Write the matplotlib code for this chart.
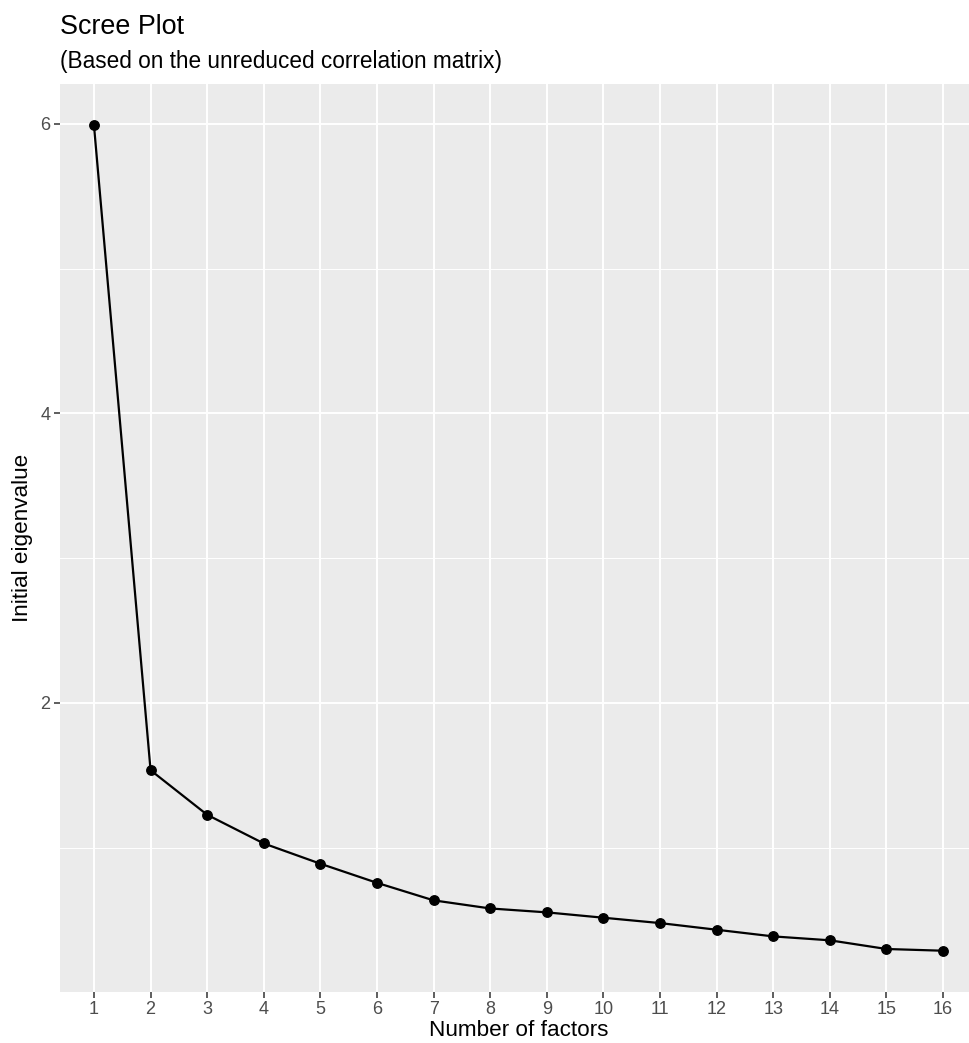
import matplotlib
matplotlib.use("Agg")
import matplotlib.pyplot as plt
import numpy as np

plt.rcParams['font.family'] = ['Liberation Sans', 'DejaVu Sans']

# scree values
factors = list(range(1, 17))
eigenvalues = [5.99, 1.535, 1.227, 1.029, 0.889, 0.757, 0.636, 0.580,
               0.553, 0.516, 0.479, 0.433, 0.387, 0.360, 0.300, 0.288]
y_major = [2, 4, 6]
y_minor = [1, 3, 5]

W, H = 970, 1043
fig = plt.figure(figsize=(W / 100, H / 100), dpi=100)

# panel in pixels: left 60, top 84, bottom 992, right runs off the image (~977)
left, top, bottom, right = 60, 84, 992, 977
ax = fig.add_axes([left / W, 1 - bottom / H, (right - left) / W, (bottom - top) / H])
ax.set_facecolor('#EBEBEB')
for s in ax.spines.values():
    s.set_visible(False)

# ggplot-like expansion: discrete x (+-0.6), continuous y (5%)
ax.set_xlim(0.4, 16.6)
lo, hi = min(eigenvalues), max(eigenvalues)
pad = 0.05 * (hi - lo)
ax.set_ylim(lo - pad, hi + pad)

ax.set_xticks(factors)
ax.set_xticklabels([str(f) for f in factors])
ax.set_yticks(y_major)
ax.set_yticks(y_minor, minor=True)

ax.grid(True, which='major', color='white', linewidth=1.4)
ax.grid(True, which='minor', axis='y', color='white', linewidth=0.7)
ax.set_axisbelow(True)

ax.tick_params(axis='both', which='major', length=4.3, width=1.1, color='#333333',
               labelcolor='#4D4D4D', labelsize=13, pad=2.5)
ax.tick_params(axis='y', which='minor', length=0)

ax.plot(factors, eigenvalues, color='black', linewidth=1.6, zorder=3)
ax.plot(factors, eigenvalues, 'o', color='black', markersize=6.8, zorder=4)

ax.set_xlabel('Number of factors', fontsize=16.2, color='black', labelpad=1)
ax.set_ylabel('Initial eigenvalue', fontsize=16.2, color='black', labelpad=5)

fig.text(left / W, 1 - 34 / H, 'Scree Plot', fontsize=19.4, ha='left', va='baseline')
fig.text(left / W, 1 - 68 / H, '(Based on the unreduced correlation matrix)',
         fontsize=16.3, ha='left', va='baseline')

fig.savefig('out.png', dpi=100)
